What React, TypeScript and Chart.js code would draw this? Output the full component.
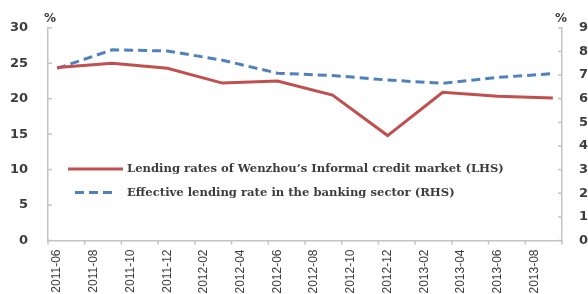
import React, { useEffect, useRef } from 'react';
import { Chart, registerables } from 'chart.js';

Chart.register(...registerables);

// Monthly category axis (labels shown every second month)
const monthLabels = [
  '2011-06', '2011-07', '2011-08', '2011-09', '2011-10', '2011-11', '2011-12',
  '2012-01', '2012-02', '2012-03', '2012-04', '2012-05', '2012-06', '2012-07',
  '2012-08', '2012-09', '2012-10', '2012-11', '2012-12', '2013-01', '2013-02',
  '2013-03', '2013-04', '2013-05', '2013-06', '2013-07', '2013-08', '2013-09',
];

// Quarterly observations
const obsDates = [
  '2011-06', '2011-09', '2011-12', '2012-03', '2012-06',
  '2012-09', '2012-12', '2013-03', '2013-06', '2013-09',
];
const informalRates = [24.4, 25.0, 24.3, 22.2, 22.5, 20.5, 14.8, 20.9, 20.35, 20.1];
const bankRates = [7.28, 8.07, 8.02, 7.63, 7.08, 6.98, 6.79, 6.65, 6.9, 7.06];

const seriesNames = [
  "Lending rates of Wenzhou\u2019s Informal credit market (LHS)",
  'Effective lending rate in the banking sector (RHS)',
];

const leftTicks = { min: 0, max: 30, step: 5 };
const rightTicks = { min: 0, max: 9, step: 1 };

const RED = '#c0504d';
const BLUE = '#4f81bd';
const AXIS = '#c4c4c4';
const TEXT = '#3d3d3d';

const toMonthly = (vals: number[]) =>
  monthLabels.map((m) => {
    const k = obsDates.indexOf(m);
    return k >= 0 ? vals[k] : null;
  });

const decor = {
  id: 'decor',
  afterDraw(chart: any) {
    const ctx = chart.ctx as CanvasRenderingContext2D;
    const { left, right, bottom } = chart.chartArea;
    const xs = chart.scales.x;
    const ys = chart.scales.y;
    const y1s = chart.scales.y1;
    ctx.save();
    ctx.strokeStyle = AXIS;
    ctx.lineWidth = 1.5;
    const seg = (a: number, b: number, c: number, d: number) => {
      ctx.beginPath();
      ctx.moveTo(a, b);
      ctx.lineTo(c, d);
      ctx.stroke();
    };
    ys.ticks.forEach((_t: any, i: number) => {
      const py = ys.getPixelForTick(i);
      seg(left, py, left + 4, py);
    });
    y1s.ticks.forEach((_t: any, i: number) => {
      const py = y1s.getPixelForTick(i);
      seg(right - 4, py, right, py);
    });
    const half = (xs.getPixelForValue(1) - xs.getPixelForValue(0)) / 2;
    for (let i = 0; i <= monthLabels.length; i += 2) {
      const px = i < monthLabels.length ? xs.getPixelForValue(i) - half : right;
      seg(px, bottom, px, bottom + 4);
    }

    // unit labels
    ctx.fillStyle = TEXT;
    ctx.font = 'bold 12px "DejaVu Sans"';
    ctx.textAlign = 'center';
    ctx.textBaseline = 'middle';
    ctx.fillText('%', left + 2, 19);
    ctx.fillText('%', right - 1, 19);

    // legend
    ctx.font = 'bold 11.6px "DejaVu Serif"';
    ctx.textAlign = 'left';
    const rows = [
      { y: 169, x0: 68, x1: 123 },
      { y: 192.5, x0: 75, x1: 117 },
    ];
    chart.data.datasets.forEach((ds: any, i: number) => {
      const r = rows[i];
      ctx.strokeStyle = ds.borderColor;
      ctx.lineWidth = 3;
      ctx.setLineDash(ds.borderDash || []);
      seg(r.x0, r.y, r.x1, r.y);
      ctx.setLineDash([]);
      ctx.fillStyle = TEXT;
      ctx.fillText(ds.label, 127, r.y);
    });
    ctx.restore();
  },
};

export default function App() {
  const ref = useRef<HTMLCanvasElement | null>(null);
  useEffect(() => {
    document.body.style.margin = '0';
    if (!ref.current) return;
    const chart = new Chart(ref.current, {
      type: 'line',
      data: {
        labels: monthLabels,
        datasets: [
          {
            label: seriesNames[0],
            data: toMonthly(informalRates),
            borderColor: RED,
            backgroundColor: RED,
            borderWidth: 3,
            pointRadius: 0,
            spanGaps: true,
            tension: 0,
            yAxisID: 'y',
          },
          {
            label: seriesNames[1],
            data: toMonthly(bankRates),
            borderColor: BLUE,
            backgroundColor: BLUE,
            borderWidth: 3,
            borderDash: [9, 5],
            pointRadius: 0,
            spanGaps: true,
            tension: 0,
            yAxisID: 'y1',
          },
        ],
      },
      options: {
        responsive: false,
        animation: false,
        layout: { padding: { top: 27, left: 0, right: 0, bottom: 0 } },
        plugins: { legend: { display: false }, tooltip: { enabled: false } },
        scales: {
          x: {
            type: 'category',
            offset: true,
            grid: { display: false, drawTicks: false },
            border: { display: true, color: AXIS, width: 1.5 },
            afterFit: (s: any) => {
              s.height = 53.5;
            },
            ticks: {
              autoSkip: false,
              maxRotation: 90,
              minRotation: 90,
              padding: 9,
              color: TEXT,
              font: { family: '"Liberation Sans"', size: 12 },
              callback: (_v: any, i: number) => (i % 2 === 0 ? monthLabels[i] : ''),
            },
          },
          y: {
            position: 'left',
            min: leftTicks.min,
            max: leftTicks.max,
            grid: { display: false, drawTicks: false },
            border: { display: true, color: AXIS, width: 1.5 },
            afterFit: (s: any) => {
              s.width = 48;
            },
            ticks: {
              stepSize: leftTicks.step,
              padding: 20,
              color: TEXT,
              font: { family: '"DejaVu Sans"', size: 13, weight: 'bold' },
            },
          },
          y1: {
            position: 'right',
            min: rightTicks.min,
            max: rightTicks.max,
            grid: { display: false, drawTicks: false },
            border: { display: true, color: AXIS, width: 1.5 },
            afterFit: (s: any) => {
              s.width = 26;
            },
            ticks: {
              stepSize: rightTicks.step,
              padding: 17,
              color: TEXT,
              font: { family: '"DejaVu Sans"', size: 13, weight: 'bold' },
            },
          },
        },
      },
      plugins: [decor],
    });
    return () => chart.destroy();
  }, []);
  return (
    <canvas
      ref={ref}
      width={588}
      height={294}
      style={{ display: 'block', width: '588px', height: '294px' }}
    />
  );
}
